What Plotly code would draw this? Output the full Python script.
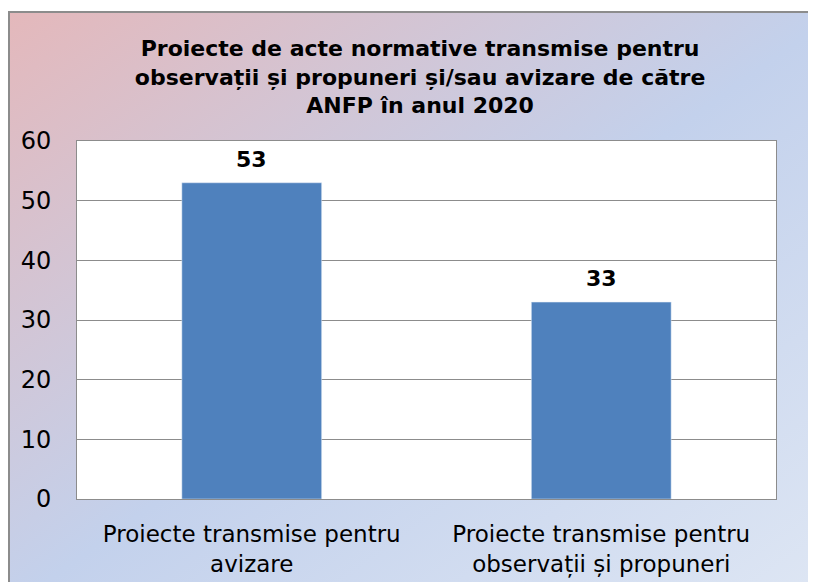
import plotly.graph_objects as go

# %% Data
categories = ["Proiecte transmise pentru<br>avizare",
              "Proiecte transmise pentru<br>observații și propuneri"]
values = [53, 33]
title_text = ("<b>Proiecte de acte normative transmise pentru<br>"
              "observații și propuneri și/sau avizare de către<br>"
              "ANFP în anul 2020</b>")

# %% Background gradient as an inline svg
svg = ("<svg xmlns='http://www.w3.org/2000/svg' width='100' height='100' preserveAspectRatio='none'>"
       "<defs><linearGradient id='g' x1='0' y1='0' x2='1' y2='1'>"
       "<stop offset='0' stop-color='#E4B8BB'/>"
       "<stop offset='0.5' stop-color='#C3D1EC'/>"
       "<stop offset='1' stop-color='#DFE7F4'/>"
       "</linearGradient></defs>"
       "<rect width='100' height='100' fill='url(#g)'/></svg>")
svg_uri = "data:image/svg+xml;utf8," + svg.replace("#", "%23").replace("<", "%3C").replace(">", "%3E")

# page body has an 8px margin, so the figure is a bit smaller than the window
W, H = 808, 574
ml, mr, mt, mb = 69, 40, 133, 83
pw, ph = W - ml - mr, H - mt - mb


def px_x(x):
    return (x - ml) / pw


def px_y(y):
    return (H - mb - y) / ph


fig = go.Figure(go.Bar(
    x=categories, y=values,
    marker_color="#4F81BD",
))

# value labels above the bars
for cat, val in zip(categories, values):
    fig.add_annotation(x=cat, y=val, text=f"<b>{val}</b>", showarrow=False,
                       yanchor="bottom", yshift=9,
                       font=dict(size=22, color="black", family="DejaVu Sans"))

fig.update_layout(
    width=W, height=H,
    margin=dict(l=ml, r=mr, t=mt, b=mb),
    paper_bgcolor="white", plot_bgcolor="white",
    bargap=0.6, showlegend=False,
    font=dict(family="DejaVu Sans", color="black"),
    title=dict(text=title_text, x=0.51, xanchor="center",
               y=1 - 48 / H, yanchor="top",
               font=dict(size=22, family="DejaVu Sans", color="black")),
    images=[dict(source=svg_uri, xref="paper", yref="paper",
                 x=px_x(1), y=px_y(4), sizex=px_x(830) - px_x(1),
                 sizey=px_y(4) - px_y(600), sizing="stretch",
                 xanchor="left", yanchor="top", layer="below")],
    shapes=[dict(type="rect", xref="paper", yref="paper",
                 x0=0, x1=1, y0=0, y1=1,
                 fillcolor="white", line_width=0, layer="below"),
            dict(type="rect", xref="paper", yref="paper",
                 x0=px_x(1), x1=px_x(830), y0=px_y(600), y1=px_y(4),
                 line=dict(color="#8C8C8C", width=2), layer="above")],
)

fig.update_yaxes(range=[0, 60], dtick=10, showgrid=True, gridcolor="#8C8C8C",
                 showline=True, linecolor="#8C8C8C", mirror=True,
                 ticks="", ticklabelstandoff=20, automargin=False,
                 tickfont=dict(size=24, family="DejaVu Sans"), zeroline=False)
fig.update_xaxes(showline=True, linecolor="#8C8C8C", mirror=True,
                 ticks="", ticklabelstandoff=14, automargin=False,
                 tickfont=dict(size=23, family="DejaVu Sans"))

fig.write_html("out.html")
